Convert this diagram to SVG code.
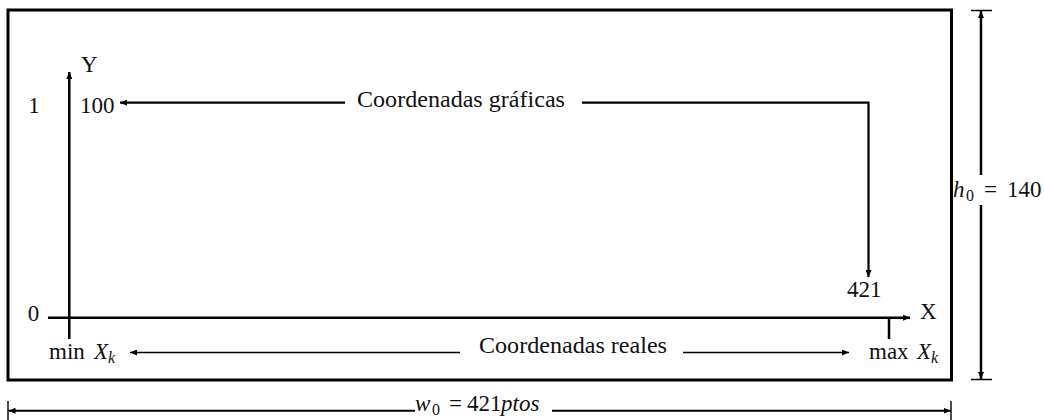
<svg xmlns="http://www.w3.org/2000/svg" width="1044" height="420" viewBox="0 0 1044 420">
<style>
text{font-family:"Liberation Serif","DejaVu Serif",serif;font-size:23px;fill:#111}
.it{font-style:italic}
.sub{font-size:16px}
.ln{fill:none;stroke:#000}
</style>
<defs>
<marker id="ah" markerUnits="userSpaceOnUse" markerWidth="8" markerHeight="6" refX="7" refY="3" orient="auto">
<path d="M0,0 L7,3 L0,6 z" fill="#000"/>
</marker>
</defs>
<rect id="frame" x="8" y="10" width="943.5" height="370" fill="#fff" stroke="#000" stroke-width="3"/>
<g id="connectors">
<path class="ln" d="M69.3,339 V72" stroke-width="2.5" marker-end="url(#ah)"/>
<path class="ln" d="M48,317.7 H910" stroke-width="2.5" marker-end="url(#ah)"/>
<path class="ln" d="M889,317.7 V339" stroke-width="2.5"/>
<path class="ln" d="M345,102.7 H120" stroke-width="2.2" marker-end="url(#ah)"/>
<path class="ln" d="M582,102.7 H868.5 V277" stroke-width="2.2" marker-end="url(#ah)"/>
<path class="ln" d="M460,352.5 H130" stroke-width="1.4" marker-end="url(#ah)"/>
<path class="ln" d="M683,352.5 H849" stroke-width="1.4" marker-end="url(#ah)"/>
<path class="ln" d="M981,175 V11" stroke-width="2.5" marker-end="url(#ah)"/>
<path class="ln" d="M981,205 V379" stroke-width="2.5" marker-end="url(#ah)"/>
<path class="ln" d="M971,10.5 H992 M971,379.5 H992" stroke-width="1.6"/>
<path class="ln" d="M415,410.7 H8.5" stroke-width="2" marker-end="url(#ah)"/>
<path class="ln" d="M552,410.7 H950.5" stroke-width="2" marker-end="url(#ah)"/>
<path class="ln" d="M8,401 V420 M951,401 V420" stroke-width="1.4"/>
</g>
<g id="label-Y"><text x="81" y="72">Y</text></g>
<g id="label-X"><text x="920" y="319">X</text></g>
<g id="label-1"><text x="34" y="113" text-anchor="middle">1</text></g>
<g id="label-0"><text x="33.5" y="321" text-anchor="middle">0</text></g>
<g id="label-100"><text x="80" y="113">100</text></g>
<g id="label-421"><text x="847" y="297">421</text></g>
<g id="label-graficas"><text x="357" y="107" textLength="208" lengthAdjust="spacingAndGlyphs">Coordenadas gráficas</text></g>
<g id="label-reales"><text x="479" y="353" textLength="188" lengthAdjust="spacingAndGlyphs">Coordenadas reales</text></g>
<g id="label-minXk"><text x="49" y="359">min<tspan x="94" class="it">X</tspan><tspan class="it sub" dy="4">k</tspan></text></g>
<g id="label-maxXk"><text x="869" y="359">max<tspan x="917" class="it">X</tspan><tspan class="it sub" dy="4">k</tspan></text></g>
<g id="label-h0"><text x="953" y="197"><tspan class="it">h</tspan><tspan class="sub" x="966" dy="4">0</tspan><tspan x="984" dy="-4">=</tspan><tspan x="1007">140</tspan></text></g>
<g id="label-w0"><text x="415" y="411"><tspan class="it">w</tspan><tspan class="sub" x="432" dy="4">0</tspan><tspan x="449" dy="-4">=</tspan><tspan x="467">421</tspan><tspan class="it" x="501">ptos</tspan></text></g>
</svg>
